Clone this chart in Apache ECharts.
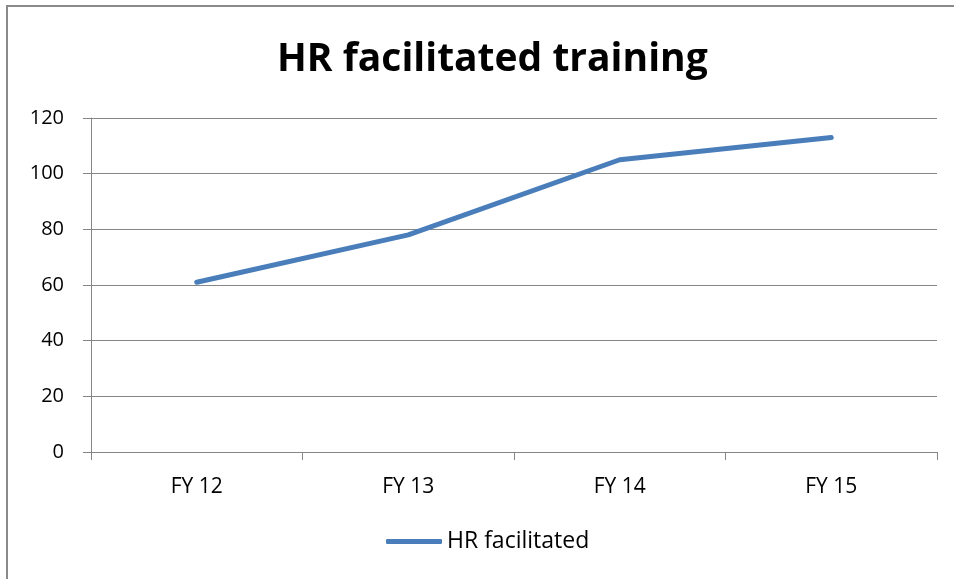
<!DOCTYPE html>
<html>
<head>
<meta charset="utf-8">
<script src="https://cdn.jsdelivr.net/npm/echarts@6/dist/echarts.min.js"></script>
<style>
  html, body { margin: 0; padding: 0; background: #fff; }
  #grafico { width: 954px; height: 579px; }
</style>
</head>
<body>
<div id="grafico"></div>
<script>
// dados
const categorias = ["FY 12", "FY 13", "FY 14", "FY 15"];
const valores = [61, 78, 105, 113];
const nomeSerie = "HR facilitated";
const titulo = "HR facilitated training";

const fonte = "'Open Sans', 'Liberation Sans', sans-serif";
const corEixo = "#868686";

let myChart = echarts.init(document.getElementById("grafico"));

let option = {
    animation: false,
    textStyle: { fontFamily: fonte },
    graphic: [
        {
            type: "rect",
            shape: { x: 7, y: 6, width: 1000, height: 1000 },
            style: { fill: "none", stroke: "#8a8a8a", lineWidth: 2 },
            silent: true
        }
    ],
    title: {
        text: titulo,
        left: 272,
        top: 35,
        textStyle: {
            fontFamily: fonte,
            fontSize: 39,
            fontWeight: "bold",
            color: "#000"
        }
    },
    legend: {
        bottom: 21,
        left: 381,
        icon: "roundRect",
        itemWidth: 56,
        itemHeight: 5,
        itemGap: 4,
        textStyle: { fontSize: 23, color: "#000", fontFamily: fonte }
    },
    grid: {
        left: 91,
        right: 17,
        top: 118,
        bottom: 127
    },
    xAxis: {
        type: "category",
        data: categorias,
        boundaryGap: true,
        axisLine: { lineStyle: { color: corEixo, width: 1 } },
        axisTick: { show: true, length: 8, lineStyle: { color: corEixo } },
        axisLabel: { fontSize: 21, color: "#000", margin: 25, fontFamily: fonte }
    },
    yAxis: {
        type: "value",
        min: 0,
        max: 120,
        interval: 20,
        axisLine: { show: true, lineStyle: { color: corEixo, width: 1 } },
        axisTick: { show: true, length: 8, lineStyle: { color: corEixo } },
        axisLabel: { fontSize: 20, color: "#000", margin: 27, fontFamily: fonte },
        splitLine: { lineStyle: { color: corEixo, width: 1 } }
    },
    series: [
        {
            name: nomeSerie,
            type: "line",
            data: valores,
            symbol: "none",
            lineStyle: { color: "#4a7ebb", width: 5, cap: "round", join: "round" },
            itemStyle: { color: "#4a7ebb" }
        }
    ]
};

myChart.setOption(option);
</script>
</body>
</html>
